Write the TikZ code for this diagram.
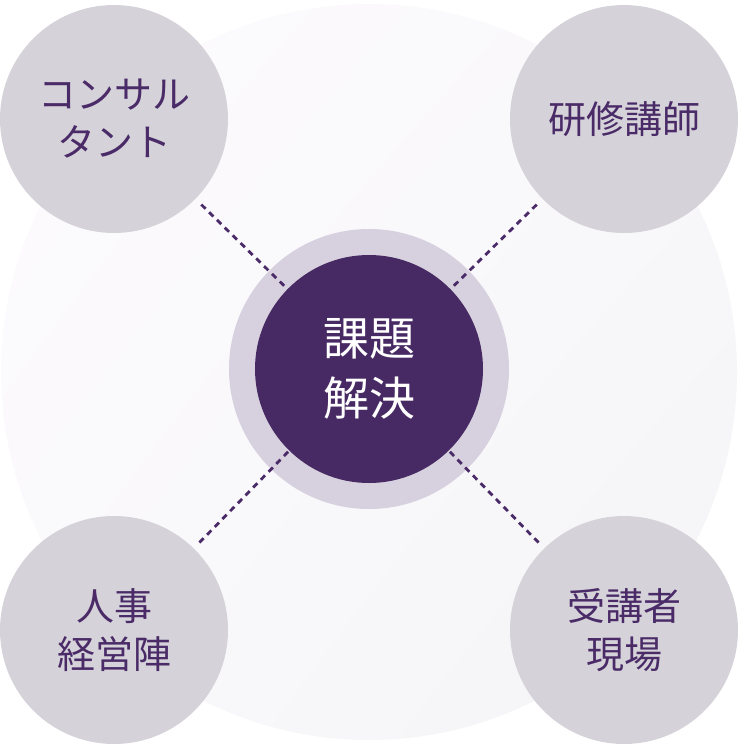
\documentclass[tikz,border=0pt]{standalone}
\usepackage{fontspec}
\setmainfont{Noto Sans CJK JP}
\usepackage{tikz}
\usetikzlibrary{shapes, arrows.meta, positioning, calc, shadings}
\definecolor{paleback}{RGB}{253, 251, 254}
\definecolor{greyback}{RGB}{244, 244, 246}
\definecolor{bubble}{RGB}{213, 211, 217}
\definecolor{ringcol}{RGB}{215, 209, 223}
\definecolor{deeppurple}{RGB}{71, 42, 99}
\definecolor{inkpurple}{RGB}{74, 43, 104}

\begin{document}
\begin{tikzpicture}[x=1pt, y=-1pt,
			bubblebox/.style={circle, fill=bubble, minimum size=228pt,
				inner sep=0pt, align=center, text=inkpurple,
				font=\fontsize{38}{48}\selectfont},
			ringbox/.style={circle, fill=ringcol, minimum size=280pt, inner sep=0pt},
			corebox/.style={circle, fill=deeppurple, minimum size=228pt,
				inner sep=0pt, align=center, text=white,
				font=\fontsize{46}{60}\selectfont},
			link/.style={draw=inkpurple, line width=2.8pt,
				dash pattern=on 6pt off 5pt,
				shorten <=8pt}
			]
			\useasboundingbox (0,0) rectangle (738,744);
			\shade[upper left=paleback, upper right=paleback!50!greyback,
				lower left=paleback!60!greyback, lower right=greyback]
				(369,372) circle (368);
			
			\node[bubblebox] (consult) at (114, 119) {コンサル\\タント};
			\node[bubblebox] (trainer) at (624, 119) {研修講師};
			\node[bubblebox] (hr)      at (114, 630) {人事\\経営陣};
			\node[bubblebox] (field)   at (624, 630) {受講者\\現場};
			\node[ringbox]   (ring)    at (369, 369) {};
			
			\draw[link] (consult) -- (ring.center);
			\draw[link] (trainer) -- (ring.center);
			\draw[link] (hr)      -- (ring.center);
			\draw[link] (field)   -- (ring.center);
			
			\node[corebox]   (core)    at (369, 369) {課題\\解決};
		\end{tikzpicture}
\end{document}
